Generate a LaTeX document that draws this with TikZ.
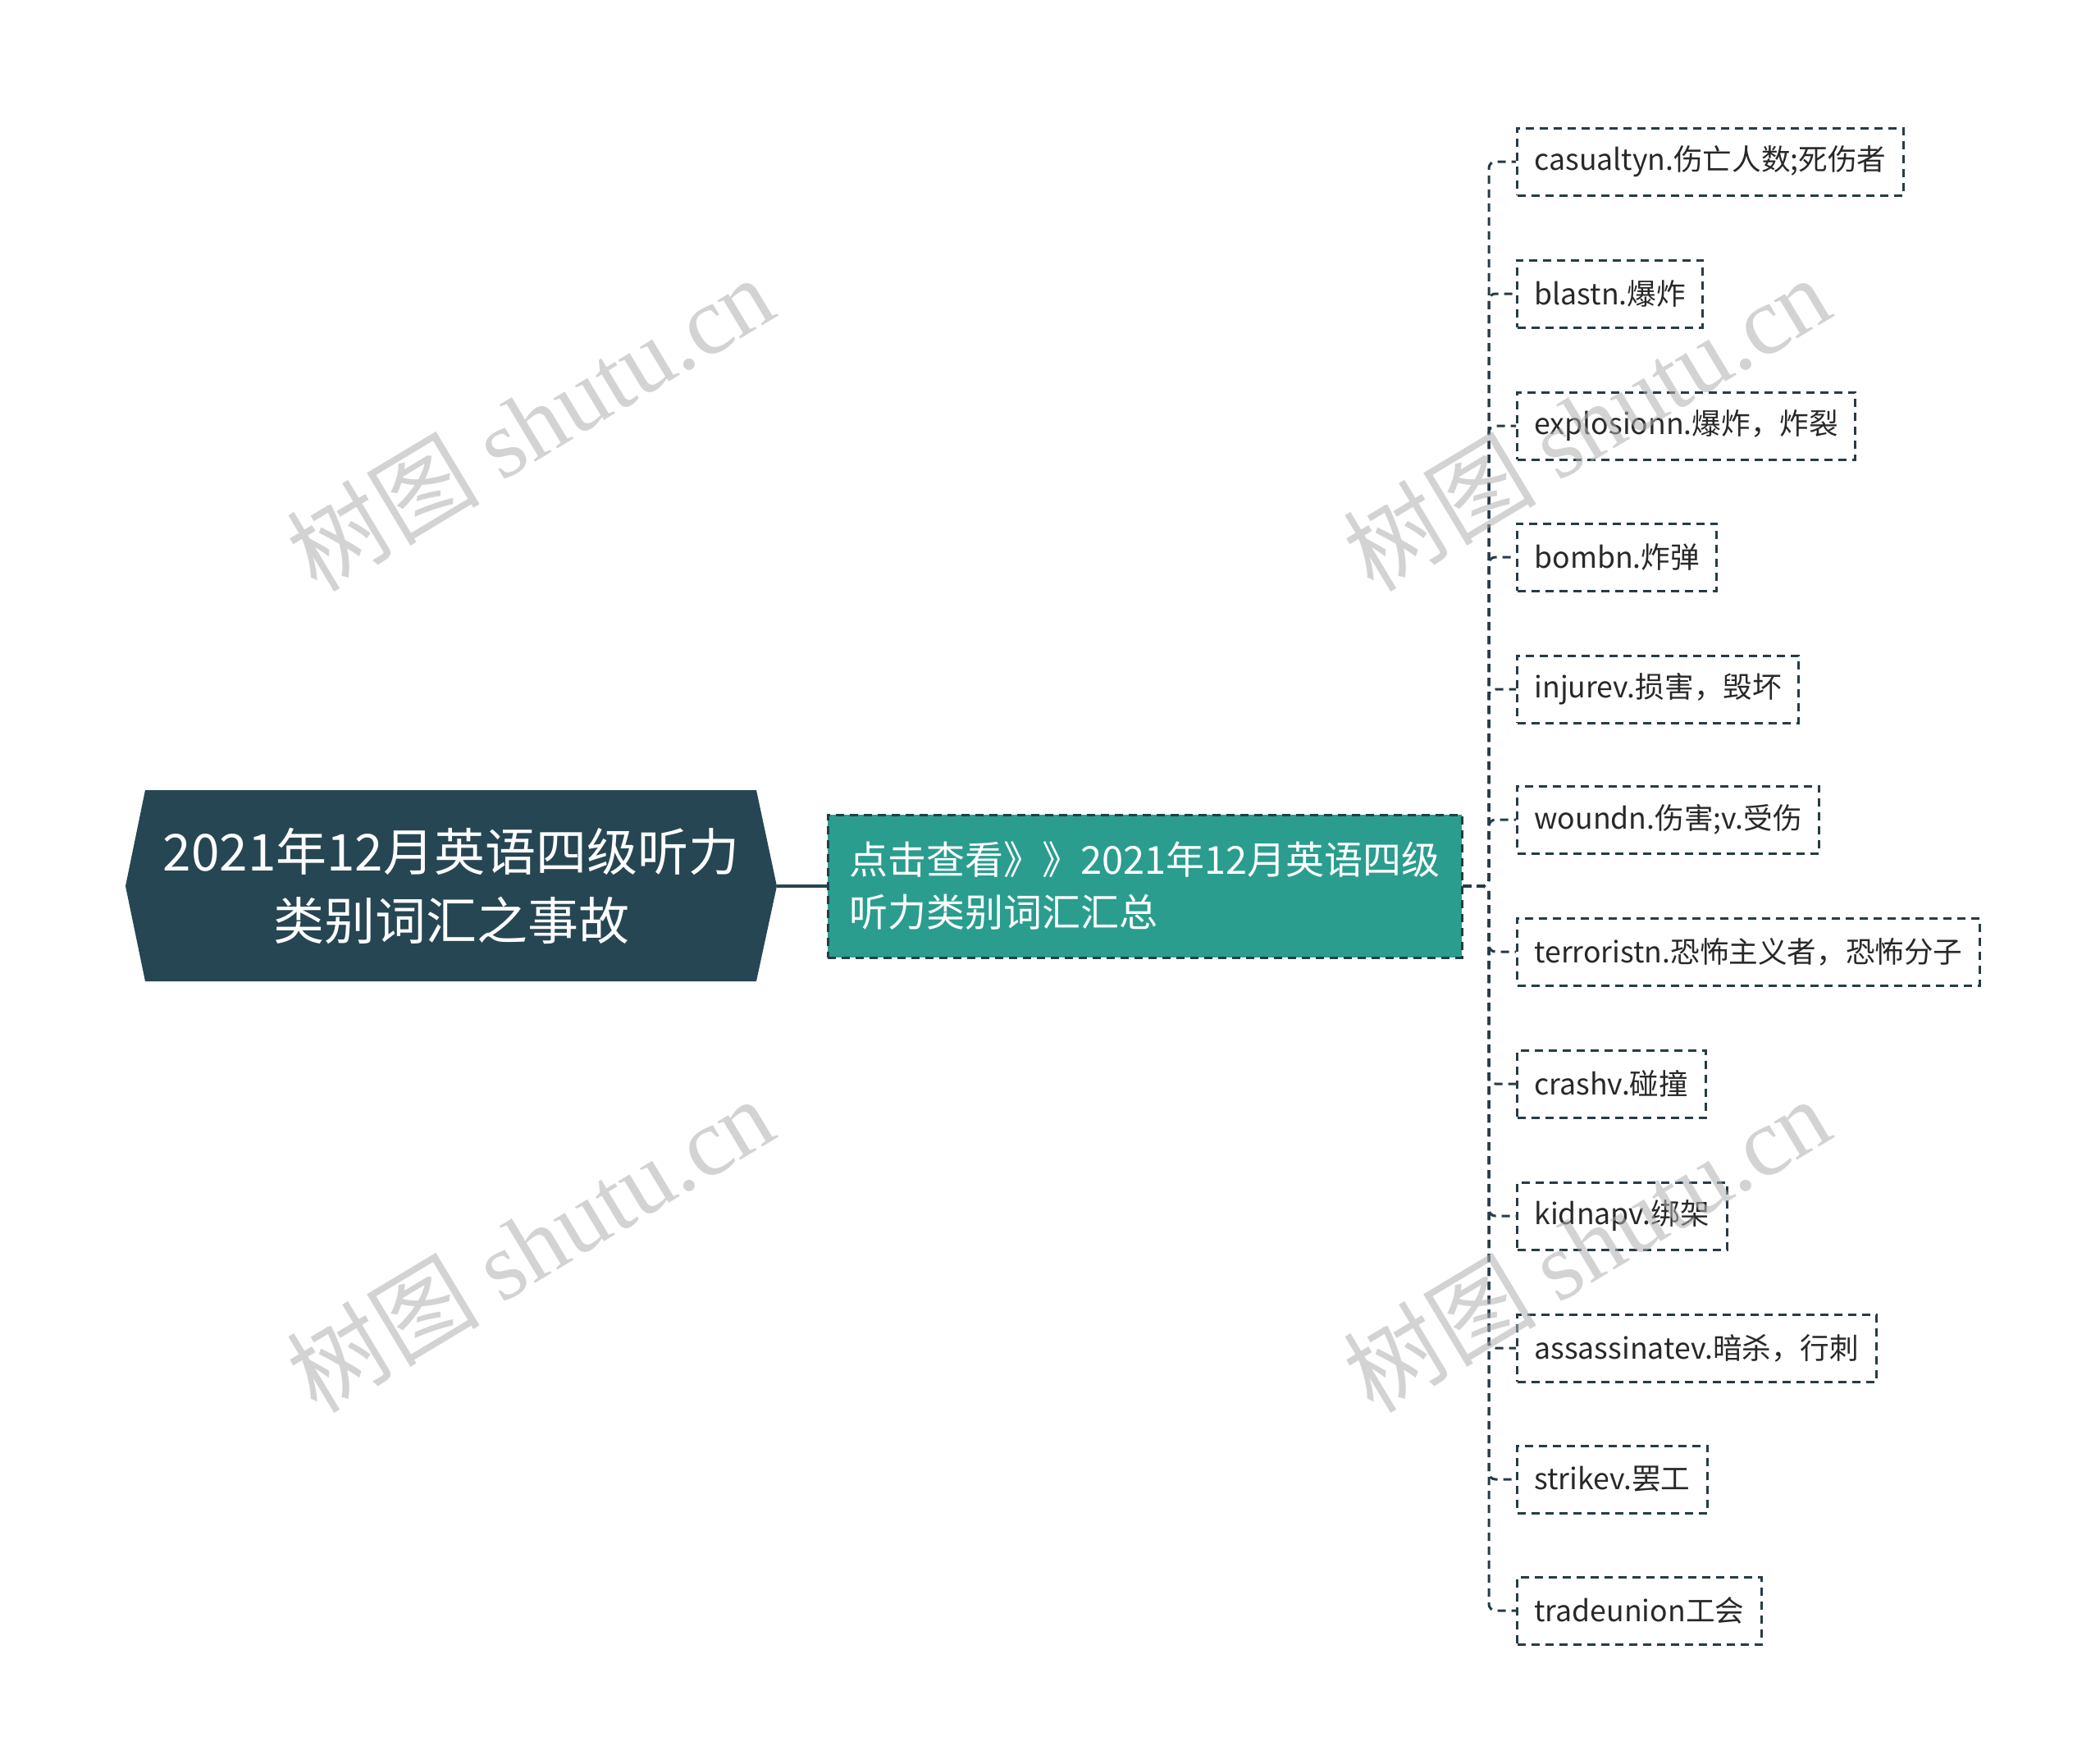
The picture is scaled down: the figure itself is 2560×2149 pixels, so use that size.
\documentclass[tikz,border=0pt]{standalone}
\usepackage{fontspec}
\setmainfont{Noto Sans CJK SC}
\newfontfamily\wmserif{Liberation Serif}
\definecolor{rootc}{RGB}{38,70,83}
\definecolor{midc}{RGB}{42,157,143}
\definecolor{linec}{RGB}{38,60,70}
\definecolor{txtc}{RGB}{40,40,40}
\definecolor{wmc}{RGB}{175,175,175}
\begin{document}
\begin{tikzpicture}[x=0.5pt,y=-0.5pt,
  leaf/.style={draw=linec, line width=1.5pt, dash pattern=on 5pt off 3.5pt, anchor=west,
    minimum height=41pt, inner xsep=10.5pt, inner ysep=0pt,
    font=\fontsize{17.8}{21}\selectfont, text=txtc},
  conn/.style={draw=linec, line width=1.5pt, dash pattern=on 5pt off 3.5pt, rounded corners=4pt},
  wm/.style={text=wmc, opacity=0.55, rotate=31, font=\fontsize{59}{66}\selectfont}
]
\useasboundingbox (0,0) rectangle (2560,2149);
\fill[rootc] (153,1080) -- (177,963) -- (922,963) -- (947,1080) -- (922,1196) -- (177,1196) -- cycle;
\node[minimum width=397pt, minimum height=116.5pt, inner sep=0pt, text=white, align=center,
  font=\fontsize{31}{42}\selectfont] (root) at (550,1080) {2021年12月英语四级听力\\类别词汇之事故};
\node[draw=linec, fill=midc, line width=1.5pt, dash pattern=on 5pt off 3.5pt,
  minimum width=386.5pt, minimum height=87pt, inner sep=0pt, align=left, text=white,
  font=\fontsize{23.5}{32}\selectfont] (mid) at (1395.5,1080) {点击查看》》2021年12月英语四级\\听力类别词汇汇总};
\draw[rootc, line width=2pt] (root.east) -- (mid.west);

\node[leaf] (l1) at (1848,197) {casualtyn.伤亡人数;死伤者};
\node[leaf] (l2) at (1848,358) {blastn.爆炸};
\node[leaf] (l3) at (1848,519) {explosionn.爆炸，炸裂};
\node[leaf] (l4) at (1848,679) {bombn.炸弹};
\node[leaf] (l5) at (1848,840) {injurev.损害，毁坏};
\node[leaf] (l6) at (1848,999) {woundn.伤害;v.受伤};
\node[leaf] (l7) at (1848,1160) {terroristn.恐怖主义者，恐怖分子};
\node[leaf] (l8) at (1848,1321) {crashv.碰撞};
\node[leaf] (l9) at (1848,1482) {kidnapv.绑架};
\node[leaf] (l10) at (1848,1643) {assassinatev.暗杀，行刺};
\node[leaf] (l11) at (1848,1803) {strikev.罢工};
\node[leaf] (l12) at (1848,1963) {tradeunion工会};

\coordinate (hub) at (1815,1080);
\foreach \i in {1,...,12}{
  \draw[conn] (mid.east) -- (hub) |- (l\i.west);
}

\node[wm] (w1) at (646,515) {树图 {\wmserif shutu.cn}};
\node[wm] (w2) at (1934,515) {树图 {\wmserif shutu.cn}};
\node[wm] (w3) at (646,1516) {树图 {\wmserif shutu.cn}};
\node[wm] (w4) at (1934,1516) {树图 {\wmserif shutu.cn}};
\end{tikzpicture}
\end{document}
